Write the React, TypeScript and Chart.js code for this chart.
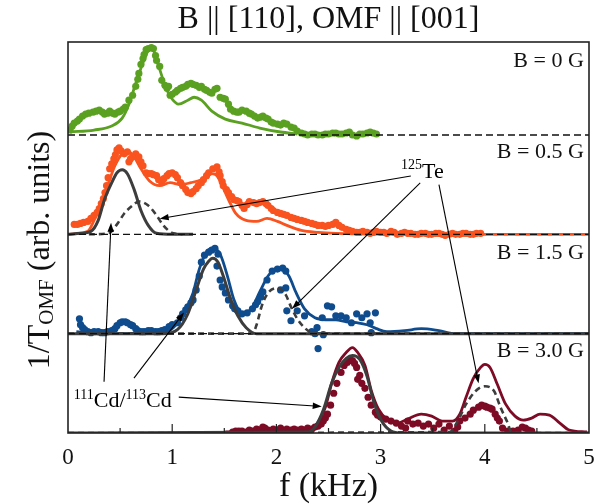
import React, { useEffect, useRef } from "react";
import { Chart, registerables } from "chart.js";
Chart.register(...registerables);

type Pt = [number, number];
const FONT = '"Liberation Serif", "Times New Roman", Times, serif';

// ---------- layout of the stacked panels (y offset of each panel baseline) ----------
const fieldLabels = ["B = 0 G", "B = 0.5 G", "B = 1.5 G", "B = 3.0 G"];
const panelOffsets = [3, 2, 1, 0];
const xTickValues = [0, 1, 2, 3, 4, 5];

// ---------- B = 0 G ----------
const green0Dots: Pt[] = [
  [0.02,0.05],[0.04,0.09],[0.06,0.12],[0.09,0.14],[0.11,0.16],[0.14,0.19],[0.17,0.21],[0.20,0.22],[0.24,0.23],[0.27,0.24],
  [0.30,0.25],[0.33,0.23],[0.35,0.21],[0.38,0.22],[0.40,0.24],[0.43,0.22],[0.45,0.21],[0.48,0.23],[0.50,0.24],[0.53,0.26],
  [0.55,0.28],[0.585,0.35],[0.62,0.40],[0.65,0.49],[0.67,0.56],[0.68,0.62],[0.70,0.71],[0.72,0.77],[0.73,0.81],[0.75,0.86],
  [0.77,0.87],[0.80,0.88],[0.82,0.87],[0.84,0.80],[0.85,0.75],[0.88,0.69],[0.90,0.55],[0.93,0.50],[0.95,0.47],[0.965,0.49],
  [0.98,0.40],[1.00,0.41],[1.03,0.43],[1.05,0.45],[1.08,0.47],[1.10,0.48],[1.13,0.49],[1.15,0.51],[1.18,0.52],[1.20,0.51],
  [1.23,0.50],[1.26,0.48],[1.28,0.49],[1.31,0.46],[1.33,0.45],[1.36,0.43],[1.38,0.42],[1.41,0.46],[1.43,0.47],[1.46,0.38],
  [1.49,0.37],[1.51,0.36],[1.54,0.31],[1.56,0.26],[1.59,0.24],[1.62,0.23],[1.64,0.23],[1.67,0.25],[1.71,0.24],[1.74,0.22],
  [1.76,0.21],[1.79,0.19],[1.82,0.17],[1.85,0.18],[1.87,0.19],[1.90,0.17],[1.92,0.16],[1.95,0.13],[1.97,0.12],[2.01,0.11],
  [2.04,0.10],[2.07,0.12],[2.10,0.11],[2.14,0.08],[2.17,0.07],[2.20,0.04],[2.24,0.02],[2.27,0.01],[2.30,0.0],[2.34,0.01],
  [2.37,0.01],[2.40,0.0],[2.44,0.0],[2.47,0.01],[2.50,0.01],[2.54,0.02],[2.57,0.02],[2.60,0.01],[2.63,0.01],[2.67,0.02],
  [2.70,0.03],[2.73,0.0],[2.77,-0.01],[2.80,0.01],[2.83,0.01],[2.87,0.02],[2.90,0.03],[2.93,0.02],[2.96,0.01]
];
const green0Fit: Pt[] = [
  [0.02,0.03],[0.25,0.05],[0.42,0.09],[0.52,0.17],[0.585,0.31],[0.65,0.52],[0.72,0.73],[0.77,0.85],[0.80,0.88],[0.83,0.83],
  [0.88,0.66],[0.95,0.45],[1.00,0.36],[1.06,0.31],[1.15,0.35],[1.21,0.38],[1.28,0.35],[1.38,0.24],[1.51,0.16],[1.67,0.12],
  [1.84,0.07],[2.04,0.03],[2.20,0.01]
];

// ---------- B = 0.5 G ----------
const orange05Dots: Pt[] = [
  [0.06,0.10],[0.09,0.10],[0.12,0.11],[0.15,0.12],[0.19,0.13],[0.22,0.16],[0.25,0.19],[0.28,0.22],[0.30,0.26],[0.32,0.31],
  [0.34,0.36],[0.355,0.42],[0.37,0.49],[0.385,0.57],[0.40,0.66],[0.42,0.71],[0.44,0.76],[0.455,0.80],[0.47,0.85],[0.49,0.87],
  [0.51,0.84],[0.54,0.81],[0.57,0.83],[0.585,0.73],[0.60,0.76],[0.62,0.78],[0.65,0.81],[0.68,0.78],[0.70,0.73],[0.72,0.69],
  [0.75,0.62],[0.77,0.61],[0.80,0.61],[0.82,0.60],[0.85,0.59],[0.87,0.55],[0.90,0.52],[0.92,0.56],[0.95,0.59],[0.97,0.61],
  [1.00,0.62],[1.03,0.60],[1.05,0.57],[1.08,0.52],[1.10,0.49],[1.13,0.45],[1.15,0.42],[1.18,0.41],[1.20,0.43],[1.23,0.46],
  [1.25,0.49],[1.28,0.52],[1.30,0.55],[1.33,0.59],[1.35,0.62],[1.39,0.66],[1.43,0.68],[1.45,0.63],[1.46,0.59],[1.48,0.53],
  [1.49,0.49],[1.52,0.45],[1.54,0.42],[1.57,0.38],[1.59,0.35],[1.62,0.34],[1.64,0.33],[1.67,0.29],[1.69,0.26],[1.72,0.30],
  [1.74,0.33],[1.78,0.32],[1.81,0.31],[1.84,0.32],[1.87,0.33],[1.90,0.31],[1.92,0.29],[1.95,0.26],[1.97,0.24],[2.01,0.22],
  [2.04,0.21],[2.07,0.20],[2.10,0.19],[2.14,0.17],[2.17,0.16],[2.20,0.15],[2.24,0.14],[2.27,0.13],[2.30,0.12],[2.34,0.11],
  [2.37,0.10],[2.40,0.09],[2.44,0.09],[2.47,0.08],[2.50,0.09],[2.54,0.10],[2.57,0.12],[2.60,0.09],[2.63,0.07],[2.67,0.05],
  [2.70,0.04],[2.73,0.03],[2.77,0.02],[2.80,0.02],[2.83,0.03],[2.87,0.02],[2.90,0.01],[2.93,0.02],[2.96,0.03],[3.00,0.02],
  [3.03,0.02],[3.06,0.01],[3.10,0.03],[3.13,0.02],[3.16,0.0],[3.20,0.01],[3.23,0.02],[3.26,0.01],[3.29,0.01],[3.33,0.0],
  [3.36,0.0],[3.39,0.01],[3.43,0.01],[3.46,0.0],[3.49,0.0],[3.53,0.01],[3.56,0.01],[3.59,0.0],[3.62,-0.01],[3.66,0.0],
  [3.69,0.01],[3.72,0.0],[3.76,0.0],[3.79,0.01],[3.82,0.01],[3.86,0.0],[3.89,0.0],[3.92,0.01],[3.96,0.01]
];
const orange05Fit: Pt[] = [
  [0.0,0.0],[0.19,0.03],[0.25,0.14],[0.32,0.31],[0.39,0.52],[0.45,0.69],[0.52,0.81],[0.585,0.83],[0.635,0.78],[0.70,0.66],
  [0.78,0.54],[0.88,0.49],[0.98,0.52],[1.08,0.50],[1.18,0.52],[1.28,0.55],[1.38,0.61],[1.43,0.59],[1.48,0.49],[1.54,0.35],
  [1.61,0.21],[1.71,0.14],[1.81,0.13],[1.91,0.16],[2.01,0.13],[2.10,0.09],[2.24,0.04],[2.40,0.02],[2.57,0.01],[3.5,0.0],[5.0,0.0]
];
const cd05: Pt[] = [
  [0,0],[0.12,0.01],[0.22,0.03],[0.29,0.14],[0.35,0.35],[0.42,0.52],[0.47,0.62],[0.52,0.65],[0.57,0.61],[0.635,0.45],
  [0.70,0.24],[0.77,0.09],[0.85,0.01],[1.0,0],[1.2,0]
];
const te05: Pt[] = [
  [0.2,0],[0.39,0.01],[0.47,0.10],[0.54,0.21],[0.62,0.29],[0.68,0.33],[0.77,0.29],[0.85,0.19],[0.915,0.09],[1.01,0.01],[1.1,0]
];

// ---------- B = 1.5 G ----------
const blue15Dots: Pt[] = [
  [0.11,0.15],[0.12,0.09],[0.14,0.06],[0.16,0.04],[0.19,0.02],[0.22,0.01],[0.25,0.02],[0.29,0.02],[0.32,0.01],[0.35,0.01],
  [0.38,0.02],[0.42,0.03],[0.45,0.05],[0.47,0.08],[0.50,0.11],[0.52,0.12],[0.55,0.12],[0.57,0.11],[0.60,0.09],[0.62,0.08],
  [0.65,0.05],[0.67,0.03],[0.70,0.02],[0.73,0.02],[0.77,0.03],[0.80,0.03],[0.84,0.02],[0.87,0.02],[0.90,0.03],[0.93,0.04],
  [0.97,0.07],[1.00,0.09],[1.05,0.11],[1.08,0.16],[1.10,0.20],[1.13,0.24],[1.15,0.27],[1.18,0.31],[1.20,0.34],[1.23,0.44],
  [1.26,0.58],[1.28,0.72],[1.31,0.79],[1.35,0.82],[1.38,0.84],[1.41,0.86],[1.44,0.80],[1.43,0.68],[1.46,0.54],[1.48,0.47],
  [1.51,0.41],[1.54,0.34],[1.58,0.28],[1.60,0.25],[1.63,0.23],[1.67,0.20],[1.72,0.21],[1.77,0.25],[1.80,0.29],[1.82,0.32],
  [1.85,0.37],[1.87,0.42],[1.91,0.54],[1.96,0.63],[2.01,0.65],[2.06,0.66],[2.09,0.63],[2.09,0.46],[2.04,0.44],[2.10,0.23],
  [2.14,0.13],[2.20,0.23],[2.27,0.18],[2.34,0.02],[2.37,0.0],[2.39,0.06],[2.40,-0.15],[2.44,0.16],[2.45,-0.01],[2.49,0.28],
  [2.53,0.27],[2.57,0.18],[2.62,0.18],[2.67,0.16],[2.72,0.11],[2.77,0.20],[2.82,0.16],[2.87,0.20],[2.90,0.11],[2.91,0.01],[2.95,0.21]
];
const blue15Fit: Pt[] = [
  [0.08,0.02],[0.25,0.0],[0.5,0.0],[0.915,0.01],[1.01,0.06],[1.11,0.20],[1.20,0.41],[1.26,0.65],[1.33,0.82],[1.39,0.86],
  [1.46,0.80],[1.53,0.58],[1.59,0.35],[1.67,0.21],[1.76,0.25],[1.84,0.42],[1.92,0.58],[1.99,0.65],[2.06,0.65],[2.12,0.58],
  [2.19,0.41],[2.27,0.25],[2.37,0.16],[2.47,0.14],[2.57,0.14],[2.67,0.12],[2.77,0.11],[2.87,0.09],[2.96,0.05],[3.06,0.02],
  [3.23,0.03],[3.39,0.05],[3.56,0.03],[3.72,0.0],[5.0,0.0]
];
const cd15: Pt[] = [
  [0,0],[0.915,0],[1.05,0.04],[1.15,0.20],[1.23,0.44],[1.30,0.65],[1.35,0.73],[1.39,0.76],[1.44,0.72],[1.49,0.58],
  [1.56,0.35],[1.63,0.18],[1.71,0.06],[1.81,0],[5,0]
];
const te15: Pt[] = [
  [0,0],[1.77,0],[1.81,0.09],[1.86,0.28],[1.92,0.41],[2.01,0.46],[2.09,0.39],[2.14,0.27],[2.20,0.15],[2.27,0.06],[2.34,0.01],[2.5,0],[5,0]
];

// ---------- B = 3.0 G ----------
const red30Dots: Pt[] = [
  [1.58,0.01],[1.61,0.02],[1.64,0.02],[1.67,0.02],[1.71,0.01],[1.74,0.03],[1.77,0.02],[1.81,0.04],[1.84,0.03],[1.87,0.06],
  [1.89,0.05],[1.92,0.03],[1.94,0.02],[1.97,0.04],[2.01,0.03],[2.04,0.05],[2.07,0.02],[2.10,0.04],[2.14,0.03],[2.17,0.04],
  [2.20,0.03],[2.24,0.04],[2.27,0.03],[2.30,0.05],[2.34,0.04],[2.37,0.06],[2.40,0.07],[2.43,0.09],[2.45,0.12],[2.47,0.15],
  [2.49,0.19],[2.52,0.28],[2.55,0.40],[2.58,0.50],[2.62,0.61],[2.65,0.68],[2.68,0.71],[2.71,0.73],[2.73,0.73],[2.75,0.70],
  [2.77,0.66],[2.78,0.54],[2.80,0.58],[2.82,0.50],[2.85,0.45],[2.88,0.36],[2.91,0.28],[2.95,0.21],[2.97,0.18],[3.00,0.16],
  [3.05,0.14],[3.10,0.12],[3.15,0.10],[3.20,0.07],[3.24,0.05],[3.26,0.12],[3.31,0.09],[3.36,0.10],[3.41,0.07],[3.46,0.09],
  [3.51,0.05],[3.56,0.09],[3.61,0.03],[3.66,0.07],[3.71,0.02],[3.74,0.06],[3.76,0.12],[3.81,0.15],[3.86,0.19],[3.89,0.23],
  [3.94,0.26],[3.97,0.28],[4.00,0.27],[4.02,0.26],[4.05,0.25],[4.07,0.24],[4.10,0.19],[4.12,0.15],[4.14,0.12],[4.17,0.05],
  [4.22,0.02],[4.27,0.02],[4.32,0.03],[4.36,0.06],[4.39,0.05],[4.42,0.03],[4.45,0.02]
];
const red30Fit: Pt[] = [
  [1.51,0.01],[2.24,0.02],[2.37,0.07],[2.47,0.26],[2.53,0.50],[2.60,0.71],[2.67,0.81],[2.73,0.86],[2.78,0.81],[2.85,0.68],
  [2.91,0.43],[2.98,0.24],[3.06,0.14],[3.16,0.10],[3.26,0.14],[3.39,0.19],[3.49,0.17],[3.59,0.12],[3.69,0.12],[3.76,0.19],
  [3.82,0.36],[3.89,0.55],[3.96,0.66],[4.00,0.69],[4.05,0.66],[4.12,0.49],[4.20,0.29],[4.29,0.17],[4.37,0.13],[4.45,0.15],
  [4.53,0.19],[4.62,0.18],[4.72,0.10],[4.81,0.03],[4.98,0.01]
];
const cd30: Pt[] = [
  [0,0],[2.30,0.01],[2.37,0.06],[2.45,0.23],[2.53,0.50],[2.60,0.66],[2.67,0.75],[2.73,0.78],[2.80,0.74],[2.87,0.57],
  [2.93,0.33],[3.01,0.12],[3.10,0.02],[3.20,0],[5,0]
];
const te30: Pt[] = [
  [0,0],[3.66,0.01],[3.74,0.12],[3.82,0.29],[3.91,0.42],[4.00,0.47],[4.09,0.42],[4.15,0.26],[4.22,0.10],[4.25,0.02],[4.35,0],[5,0]
];

// ---------- annotations (data coordinates of the stacked axis) ----------
const teLabelAt: Pt = [3.196, 2.567];
const cdLabelAt: Pt = [0.056, 0.257];
const teArrows: [Pt, Pt][] = [
  [[3.29, 2.587], [0.88, 2.157]],
  [[3.38, 2.518], [2.15, 1.25]],
  [[3.56, 2.50], [3.94, 0.50]],
];
const cdArrows: [Pt, Pt][] = [
  [[0.346, 0.516], [0.413, 2.116]],
  [[0.633, 0.552], [1.113, 1.213]],
  [[1.063, 0.361], [2.435, 0.268]],
];
const fieldLabelLocalY = [0.68, 0.77, 0.75, 0.77];

// ---------- styles ----------
const COLORS = ["#5aa021", "#f9531f", "#0f4c8e", "#7d0b25"];
const GRAY = "#3d3d3d";
const Y_MAX = 3.936;

const panels = [
  { dots: green0Dots, fit: green0Fit, cd: null as Pt[] | null, te: null as Pt[] | null },
  { dots: orange05Dots, fit: orange05Fit, cd: cd05, te: te05 },
  { dots: blue15Dots, fit: blue15Fit, cd: cd15, te: te15 },
  { dots: red30Dots, fit: red30Fit, cd: cd30, te: te30 },
];

function drawArrow(ctx: CanvasRenderingContext2D, x1: number, y1: number, x2: number, y2: number) {
  const a = Math.atan2(y2 - y1, x2 - x1);
  const L = 9, Wd = 3.2;
  ctx.beginPath();
  ctx.moveTo(x1, y1);
  ctx.lineTo(x2 - (L - 2) * Math.cos(a), y2 - (L - 2) * Math.sin(a));
  ctx.stroke();
  ctx.beginPath();
  ctx.moveTo(x2, y2);
  ctx.lineTo(x2 - L * Math.cos(a) + Wd * Math.sin(a), y2 - L * Math.sin(a) - Wd * Math.cos(a));
  ctx.lineTo(x2 - L * Math.cos(a) - Wd * Math.sin(a), y2 - L * Math.sin(a) + Wd * Math.cos(a));
  ctx.closePath();
  ctx.fill();
}

function drawRich(ctx: CanvasRenderingContext2D, parts: [string, boolean][], x: number, y: number, size: number, supSize: number) {
  let cx = x;
  ctx.textAlign = "left";
  ctx.textBaseline = "alphabetic";
  for (const [t, sup] of parts) {
    ctx.font = `${sup ? supSize : size}px ${FONT}`;
    ctx.fillText(t, cx, sup ? y - size * 0.4 : y);
    cx += ctx.measureText(t).width;
  }
}

export default function App() {
  const ref = useRef<HTMLCanvasElement>(null);
  useEffect(() => {
    const canvas = ref.current!;
    const toXY = (pts: Pt[], off: number) => pts.map(([x, y]) => ({ x, y: y + off }));
    const datasets: any[] = [];
    panels.forEach((p, i) => {
      const off = panelOffsets[i];
      const color = COLORS[i];
      datasets.push({
        data: toXY(p.dots, off), showLine: false, pointRadius: 3.6, pointHoverRadius: 0,
        backgroundColor: color, borderColor: color, pointBackgroundColor: color, pointBorderColor: color, pointBorderWidth: 0, order: 3,
      });
      datasets.push({
        data: toXY(p.fit, off), showLine: true, pointRadius: 0, borderColor: color, borderWidth: 2.8,
        cubicInterpolationMode: "monotone", order: 2,
      });
      if (p.cd) datasets.push({
        data: toXY(p.cd, off), showLine: true, pointRadius: 0, borderColor: GRAY, borderWidth: 3,
        cubicInterpolationMode: "monotone", order: 1,
      });
      if (p.te) datasets.push({
        data: toXY(p.te, off), showLine: true, pointRadius: 0, borderColor: GRAY, borderWidth: 2.6,
        borderDash: [6, 4], cubicInterpolationMode: "monotone", order: 0,
      });
    });

    const overlay = {
      id: "overlay",
      afterDraw(chart: any) {
        const { ctx, chartArea: ca } = chart;
        const xs = chart.scales.x, ys = chart.scales.y;
        const px = (v: number) => xs.getPixelForValue(v);
        const py = (v: number) => ys.getPixelForValue(v);
        ctx.save();
        // dashed baselines
        ctx.strokeStyle = "#111";
        ctx.lineWidth = 1.3;
        ctx.setLineDash([7, 4]);
        panelOffsets.forEach((off) => {
          if (off === 0) return;
          ctx.beginPath();
          ctx.moveTo(ca.left, py(off));
          ctx.lineTo(ca.right, py(off));
          ctx.stroke();
        });
        ctx.setLineDash([]);
        // frame
        ctx.strokeStyle = "#222";
        ctx.lineWidth = 1.6;
        ctx.strokeRect(ca.left, ca.top, ca.right - ca.left, ca.bottom - ca.top);
        // inward ticks
        ctx.lineWidth = 1.2;
        for (let k = 1; k < xTickValues.length * 2 - 2; k++) {
          const v = k / 2;
          const len = k % 2 === 0 ? 9 : 5;
          ctx.beginPath();
          ctx.moveTo(px(v), ca.bottom);
          ctx.lineTo(px(v), ca.bottom - len);
          ctx.stroke();
        }
        // field labels
        ctx.fillStyle = "#111";
        ctx.font = `22px ${FONT}`;
        ctx.textAlign = "right";
        ctx.textBaseline = "alphabetic";
        fieldLabels.forEach((t, i) => {
          ctx.fillText(t, px(4.95), py(panelOffsets[i] + fieldLabelLocalY[i]));
        });
        // title
        ctx.font = `32px ${FONT}`;
        ctx.textAlign = "center";
        ctx.textBaseline = "middle";
        ctx.fillText("B || [110], OMF || [001]", (ca.left + ca.right) / 2, 20);
        // y-axis title with subscript
        ctx.save();
        const big = 32, small = 21;
        ctx.font = `${big}px ${FONT}`;
        const w1 = ctx.measureText("1/T").width;
        const w3 = ctx.measureText(" (arb. units)").width;
        ctx.font = `${small}px ${FONT}`;
        const w2 = ctx.measureText("OMF").width;
        const total = w1 + w2 + w3;
        const cy = 250;
        ctx.translate(49, cy + total / 2);
        ctx.rotate(-Math.PI / 2);
        ctx.textAlign = "left";
        ctx.textBaseline = "alphabetic";
        ctx.font = `${big}px ${FONT}`;
        ctx.fillText("1/T", 0, 0);
        ctx.font = `${small}px ${FONT}`;
        ctx.fillText("OMF", w1, 4);
        ctx.font = `${big}px ${FONT}`;
        ctx.fillText(" (arb. units)", w1 + w2, 0);
        ctx.restore();
        // annotations
        ctx.fillStyle = "#000";
        ctx.strokeStyle = "#000";
        ctx.lineWidth = 1.1;
        [...teArrows, ...cdArrows].forEach(([a, b]) => drawArrow(ctx, px(a[0]), py(a[1]), px(b[0]), py(b[1])));
        drawRich(ctx, [["125", true], ["Te", false]], px(teLabelAt[0]), py(teLabelAt[1]), 22, 14);
        drawRich(ctx, [["111", true], ["Cd/", false], ["113", true], ["Cd", false]], px(cdLabelAt[0]), py(cdLabelAt[1]), 22, 14);
        ctx.restore();
      },
    };

    const chart = new Chart(canvas, {
      type: "scatter",
      data: { datasets },
      options: {
        animation: false,
        responsive: true,
        maintainAspectRatio: false,
        events: [],
        layout: { padding: { left: 68, right: 20, top: 42, bottom: 0 } },
        plugins: { legend: { display: false }, tooltip: { enabled: false }, title: { display: false } },
        scales: {
          x: {
            type: "linear", min: 0, max: 5,
            ticks: { stepSize: 1, color: "#111", font: { family: FONT, size: 23 }, padding: 11, maxRotation: 0, autoSkip: false },
            grid: { display: false, drawTicks: false },
            border: { display: false },
            title: { display: true, text: "f (kHz)", color: "#111", font: { family: FONT, size: 34, lineHeight: 1 }, padding: { top: 0, bottom: 0 } },
            afterFit: (s: any) => { s.height = 71; },
          },
          y: { type: "linear", min: 0, max: Y_MAX, display: false },
        },
      } as any,
      plugins: [overlay],
    });
    return () => chart.destroy();
  }, []);
  return (
    <div style={{ position: "fixed", left: 0, top: 0, width: 609, height: 504 }}>
      <canvas ref={ref} />
    </div>
  );
}
